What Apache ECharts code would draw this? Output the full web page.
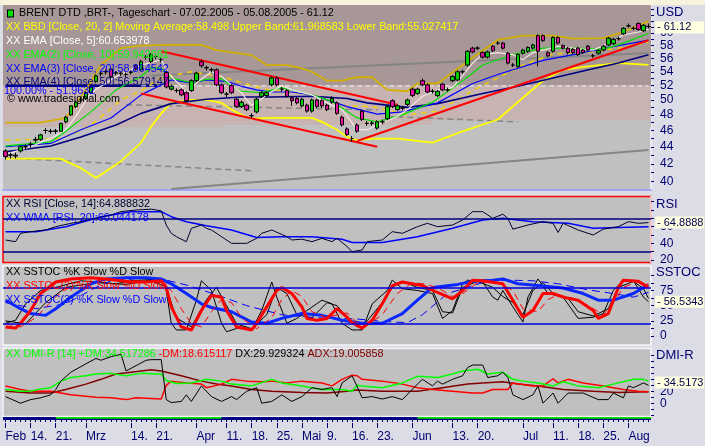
<!DOCTYPE html>
<html>
<head>
<meta charset="utf-8">
<script src="https://cdn.jsdelivr.net/npm/echarts@6/dist/echarts.min.js"></script>
<style>
  html, body { margin: 0; padding: 0; background: #dcdce6; }
  #main { width: 705px; height: 446px; }
  #topStrip { position: absolute; left: 0; top: 0; width: 705px; height: 5px; background: #f8f1dc; }
</style>
</head>
<body>
<div id="main"></div>
<div id="topStrip"></div>
<script type="text/javascript">
    // ---- price data ----
    var openP = [
        43.5, 43.0, 42.9, 43.5, 44.0, 44.3, 44.8, 44.9, 46.0, 45.9,
        45.9, 45.9, 47.1, 48.0, 49.1, 50.0, 50.2, 51.0, 52.6, 53.7,
        54.0, 54.4, 53.8, 53.7, 53.6, 53.9, 54.9, 54.3, 56.2, 55.5,
        56.3, 55.8, 53.9, 51.5, 51.3, 51.4, 51.0, 51.3, 52.7, 55.5,
        54.6, 54.3, 54.3, 52.1, 50.8, 52.0, 50.1, 49.1, 49.3, 47.9,
        48.4, 50.5, 50.6, 52.1, 53.1, 51.5, 51.3, 50.3, 50.2, 49.2,
        49.3, 48.5, 50.0, 49.9, 49.3, 49.7, 49.6, 47.7, 46.2, 45.0,
        46.7, 48.5, 46.9, 46.9, 46.3, 47.1, 47.5, 49.9, 48.7, 48.9,
        49.4, 51.5, 50.9, 52.7, 52.1, 51.2, 50.6, 52.2, 51.4, 52.7,
        52.8, 54.0, 55.0, 57.6, 57.6, 56.9, 56.2, 57.9, 58.4, 58.4,
        56.8, 55.0, 54.8, 56.8, 57.1, 57.6, 59.6, 59.6, 56.9, 57.1,
        59.3, 58.0, 57.6, 57.4, 57.6, 57.3, 57.9, 56.4, 56.8, 57.3,
        58.1, 58.3, 59.1, 59.9, 61.2, 60.8, 61.6, 60.4, 61.1
    ];
    var closeP = [
        42.85, 43.05, 43.0, 44.0, 44.0, 44.3, 44.9, 45.45, 46.0, 45.9,
        45.95, 46.9, 47.7, 49.2, 49.7, 50.05, 51.0, 51.8, 53.4, 53.8,
        54.0, 53.3, 53.85, 53.8, 53.6, 54.0, 54.4, 55.5, 56.2, 56.6,
        56.3, 55.8, 51.8, 51.9, 51.3, 50.7, 49.9, 52.7, 53.8, 54.9,
        54.6, 54.3, 52.1, 51.0, 50.8, 51.0, 49.1, 49.7, 48.7, 47.9,
        50.1, 51.0, 51.0, 53.1, 52.1, 51.5, 50.5, 49.9, 49.6, 50.1,
        48.5, 50.0, 49.1, 49.2, 48.7, 50.2, 48.2, 46.7, 45.5, 45.0,
        45.9, 47.4, 46.9, 46.95, 47.1, 47.1, 49.1, 49.1, 49.2, 48.9,
        50.0, 50.6, 51.5, 52.1, 51.1, 51.2, 51.2, 51.4, 51.4, 53.3,
        54.0, 54.0, 57.1, 57.0, 57.6, 56.2, 57.0, 57.2, 58.4, 57.6,
        55.3, 55.0, 56.6, 57.3, 57.7, 58.1, 57.1, 58.8, 56.4, 59.3,
        58.4, 57.6, 56.9, 56.9, 56.6, 56.9, 57.3, 56.4, 57.2, 57.9,
        59.2, 59.0, 59.1, 60.8, 61.2, 60.8, 60.6, 61.3, 61.12
    ];
    var lowP = [
        42.5, 42.6, 42.6, 43.3, 43.6, 43.9, 44.5, 44.7, 45.6, 45.6,
        45.6, 45.8, 46.9, 47.9, 48.9, 49.7, 50.0, 50.8, 52.4, 53.3,
        53.6, 53.0, 53.5, 53.4, 53.2, 53.6, 54.2, 54.1, 55.8, 55.3,
        55.9, 55.4, 51.6, 51.3, 51.0, 50.5, 49.7, 51.1, 52.5, 54.6,
        54.2, 53.9, 51.9, 50.8, 50.4, 50.8, 48.9, 48.9, 48.5, 47.5,
        48.2, 50.3, 50.4, 51.9, 51.9, 51.1, 50.3, 49.2, 49.4, 49.0,
        48.3, 48.3, 48.9, 48.9, 48.5, 49.5, 48.0, 46.5, 45.3, 44.6,
        45.7, 47.2, 46.6, 46.6, 46.1, 46.8, 47.3, 48.9, 48.5, 48.6,
        49.2, 50.4, 50.7, 51.9, 50.9, 50.9, 50.4, 51.2, 51.1, 52.5,
        52.6, 53.7, 54.8, 56.8, 57.3, 56.0, 56.0, 57.0, 58.1, 57.4,
        55.1, 54.7, 54.6, 56.6, 56.9, 57.4, 54.8, 58.6, 56.2, 56.9,
        58.2, 57.4, 56.6, 56.7, 56.4, 56.7, 57.1, 56.1, 56.6, 57.1,
        57.9, 58.1, 58.8, 59.7, 60.9, 60.5, 60.4, 60.2, 60.8
    ];
    var highP = [
        43.7, 43.3, 43.3, 44.1, 44.3, 44.6, 45.2, 45.6, 46.3, 46.2,
        46.2, 47.0, 47.9, 49.3, 49.9, 50.4, 51.2, 52.0, 53.6, 54.1,
        54.3, 54.6, 54.1, 54.0, 53.9, 54.2, 55.1, 55.8, 56.5, 56.8,
        56.6, 56.1, 54.2, 52.1, 51.6, 51.6, 51.2, 52.9, 54.0, 55.8,
        54.9, 54.6, 54.5, 52.3, 51.1, 52.2, 50.3, 49.9, 49.5, 48.2,
        50.3, 51.2, 51.2, 53.3, 53.3, 51.8, 51.5, 50.5, 50.4, 50.3,
        49.5, 50.2, 50.2, 50.1, 49.5, 50.5, 49.8, 47.9, 46.4, 45.3,
        46.9, 48.7, 47.2, 47.2, 47.3, 47.4, 49.3, 50.1, 49.4, 49.2,
        50.2, 51.7, 51.7, 53.0, 52.3, 51.5, 51.4, 52.4, 51.7, 53.5,
        54.2, 54.3, 57.3, 57.8, 57.9, 57.1, 57.2, 58.1, 58.7, 58.6,
        57.0, 55.3, 56.8, 57.5, 57.9, 58.3, 59.8, 59.8, 57.1, 59.5,
        59.5, 58.2, 57.8, 57.6, 57.8, 57.5, 58.1, 56.7, 57.4, 58.1,
        59.4, 59.2, 59.4, 61.0, 61.6, 61.1, 61.8, 61.5, 61.6
    ];

    // ---- price panel indicators, [day index, value] ----
    var emaFive = [[0,43.1],[5,44.0],[10,45.3],[12,46.1],[14,47.8],[17,51.0],[22,53.3],[27,55.0],[31,55.8],[32,54.3],[33,53.3],[35,51.9],[36,51.0],[37,51.4],[38,52.4],[41,54.0],[43,53.3],[45,52.1],[47,51.0],[48,50.0],[49,49.3],[50,49.6],[52,50.7],[55,52.0],[57,51.4],[61,50.7],[64,49.6],[67,48.7],[70,46.1],[72,46.1],[74,46.7],[78,47.8],[80,48.7],[83,50.5],[86,51.4],[89,51.7],[93,55.3],[95,56.6],[98,56.9],[101,56.6],[103,55.8],[105,56.9],[107,57.3],[110,57.9],[113,57.6],[117,57.3],[121,58.7],[123,59.7],[126,60.2],[128,60.65]];
    var emaTen = [[0,44.1],[9,44.6],[12,45.9],[17,48.4],[22,51.4],[27,53.3],[29,54.6],[31,54.5],[33,53.1],[37,52.4],[40,52.9],[43,53.0],[45,51.9],[47,51.2],[51,51.0],[55,51.7],[58,51.2],[61,50.7],[65,49.8],[70,47.6],[74,47.1],[79,48.0],[85,49.7],[91,52.7],[95,55.0],[101,56.6],[107,57.6],[113,57.6],[119,57.4],[123,58.4],[128,59.94]];
    var emaTwenty = [[0,44.0],[9,44.4],[15,46.1],[21,47.6],[27,50.7],[33,52.8],[37,52.4],[40,52.8],[44,52.6],[47,51.9],[50,51.4],[53,51.1],[57,51.1],[61,50.7],[68,49.1],[74,48.1],[79,48.4],[86,49.6],[93,52.3],[98,53.6],[107,55.7],[113,56.6],[120,57.7],[128,58.86]];
    var emaFifty = [[0,43.4],[9,44.1],[15,45.2],[22,46.7],[27,48.2],[33,49.5],[40,50.1],[47,50.4],[53,50.4],[61,50.5],[68,50.2],[72,49.6],[80,49.0],[86,49.5],[95,50.9],[102,51.9],[109,53.1],[115,54.1],[122,55.3],[128,56.58]];
    var bbUpper = [[0,47.0],[7,47.0],[12,47.6],[16,51.4],[19,55.0],[23,57.6],[27,58.0],[32,58.1],[39,58.1],[42,57.3],[49,56.5],[52,55.0],[56,55.0],[59,54.5],[61,54.0],[64,52.7],[67,52.7],[70,53.2],[73,53.2],[76,51.4],[80,51.2],[82,52.3],[86,52.3],[89,53.9],[93,56.1],[98,58.9],[103,59.6],[109,59.6],[113,59.1],[119,59.2],[123,60.2],[128,61.97]];
    var bbLower = [[0,42.6],[11,42.6],[15,41.5],[18,40.4],[23,42.3],[27,44.5],[29,46.5],[31,48.2],[33,49.6],[37,50.0],[40,50.0],[43,49.6],[45,48.7],[47,48.0],[49,47.5],[53,47.6],[58,47.6],[61,47.6],[63,47.1],[66,46.1],[68,45.2],[70,44.8],[73,45.0],[78,45.0],[85,44.5],[91,45.9],[98,47.4],[103,50.3],[107,52.7],[111,54.3],[116,54.8],[122,55.3],[128,55.03]];
    var bbMiddle = [[0,44.8],[11,45.0],[15,46.0],[18,47.2],[23,50.0],[27,51.3],[31,53.1],[37,54.0],[43,53.3],[49,52.0],[53,51.3],[61,50.8],[67,49.2],[73,49.1],[80,48.0],[86,48.5],[93,51.3],[98,53.1],[103,55.0],[109,56.7],[116,57.0],[122,57.6],[128,58.5]];

    // drawn trend lines and levels: [[day, price], [day, price]]
    var redTrendLines = [[[31,57.1],[78,49.35]], [[27,50.9],[74,44.0]], [[70,44.7],[128,58.85]]];
    var grayTrendLines = [[[29,53.46],[128,56.85]], [[33,39.2],[128,43.6]]];
    var grayDashedLines = [[[0,42.69],[49,41.2]], [[24,49.34],[74,48.67]], [[76,47.8],[102,47.1]]];
    var fibLevel = 51.9632;
    var fibNavy = [[0,fibLevel],[31,fibLevel]];
    var fibWhite = [[27,fibLevel],[128,fibLevel]];
    var zoneSteps = [[0,46.4],[43,46.7],[85,47.3]];

    // ---- RSI ----
    var rsiLine = [[0,44],[2,42],[3,52],[5,54],[8,56],[10,60],[13,64],[15,66],[18,70],[21,74],[23,78],[26,80],[29,81],[31,79],[32,62],[33,52],[34,48],[36,42],[37,58],[39,62],[40,58],[41,56],[43,48],[45,40],[48,40],[50,46],[51,52],[53,56],[56,48],[57,44],[59,45],[61,42],[63,46],[65,42],[66,46],[68,36],[69,30],[71,32],[72,42],[75,44],[77,54],[79,52],[82,60],[84,64],[86,60],[89,62],[91,68],[93,78],[95,78],[97,70],[99,75],[100,70],[101,57],[104,62],[107,66],[109,64],[110,53],[111,64],[114,56],[117,50],[119,57],[122,60],[124,66],[126,64],[128,64.89]];
    var rsiWma = [[0,54],[6,54],[12,60],[19,72],[25,78],[31,78],[33,72],[36,66],[40,61],[45,56],[50,47],[55,48],[61,48],[67,45],[69,41],[75,41],[82,48],[89,58],[95,68],[99,70],[105,66],[112,64],[117,58],[122,59],[128,60.04]];
    var rsiLevels = [70, 30];

    // ---- slow stochastics ----
    var stochK1 = [[0,21],[2,26],[4,53],[7,75],[10,80],[15,91],[22,86],[25,91],[31,94],[32,75],[33,21],[34,10],[36,10],[38,59],[39,91],[41,75],[43,21],[44,7],[47,15],[49,10],[51,42],[53,89],[54,64],[56,21],[58,29],[60,42],[63,59],[65,53],[67,21],[69,10],[71,10],[73,53],[76,75],[77,92],[79,78],[82,75],[85,70],[87,29],[89,42],[91,86],[92,92],[95,89],[97,64],[98,59],[99,75],[101,48],[103,23],[104,64],[106,94],[108,70],[111,64],[114,29],[117,31],[119,37],[121,75],[123,92],[125,91],[127,64],[128,56.5]];
    var stochD1 = [[0,25],[4,20],[8,55],[12,80],[18,88],[24,85],[29,92],[32,80],[34,30],[37,15],[40,60],[42,80],[44,50],[46,20],[49,12],[52,35],[54,80],[56,70],[58,35],[61,30],[64,55],[66,50],[68,30],[70,15],[72,25],[75,55],[77,80],[79,90],[82,80],[85,75],[87,40],[89,38],[91,80],[94,90],[97,80],[99,65],[101,55],[103,35],[105,75],[107,88],[109,70],[112,62],[114,40],[117,33],[120,45],[122,80],[125,90],[127,78],[128,62]];
    var stochK2 = [[0,15],[2,13],[3,21],[5,42],[7,70],[10,89],[13,94],[17,96],[20,94],[23,91],[25,89],[28,89],[31,91],[32,80],[33,48],[35,15],[37,10],[39,42],[41,67],[43,64],[44,42],[46,15],[49,10],[50,21],[52,48],[54,75],[55,80],[57,70],[59,48],[60,29],[62,26],[64,29],[66,45],[68,31],[69,22],[71,13],[73,26],[75,53],[77,83],[79,89],[83,83],[86,72],[89,61],[91,75],[93,92],[95,91],[99,86],[101,59],[103,31],[105,42],[107,70],[109,70],[111,64],[114,59],[117,42],[118,29],[120,37],[122,80],[123,92],[126,90],[128,80]];
    var stochD2 = [[0,20],[3,15],[6,30],[10,65],[14,88],[20,93],[28,90],[31,88],[33,75],[35,45],[37,20],[39,15],[41,40],[43,60],[45,55],[47,30],[50,12],[53,30],[55,60],[57,75],[59,65],[61,40],[64,30],[66,35],[68,38],[70,22],[72,18],[75,35],[78,70],[81,88],[84,85],[87,75],[89,65],[91,70],[94,88],[98,88],[101,75],[103,45],[106,40],[108,60],[110,68],[113,62],[116,50],[119,35],[121,55],[123,80],[126,90],[128,85]];
    var stochK3 = [[0,59],[3,45],[5,37],[8,34],[10,45],[13,64],[17,86],[20,94],[24,96],[28,96],[31,94],[33,86],[36,70],[39,53],[41,47],[45,40],[49,23],[52,21],[55,29],[59,37],[63,34],[67,26],[71,21],[75,21],[79,37],[82,59],[85,80],[90,85],[93,90],[97,92],[99,94],[102,86],[106,83],[111,79],[115,70],[118,59],[121,59],[125,70],[127,80],[128,83]];
    var stochD3 = [[0,55],[6,45],[12,53],[18,80],[21,91],[27,95],[31,94],[36,84],[42,68],[48,50],[55,35],[62,30],[70,28],[75,24],[80,22],[83,35],[88,70],[95,88],[100,92],[105,91],[110,86],[116,76],[121,70],[125,64],[128,72]];
    var stochLevels = [80, 20];

    // ---- DMI ----
    var dmiPlus = [[0,23],[3,20],[5,20],[7,24],[9,26],[11,37],[13,43],[16,46],[18,49],[21,50],[24,46],[27,50],[30,49],[31,49],[32,38],[34,33],[37,34],[40,40],[43,37],[45,32],[49,29],[53,40],[55,34],[59,29],[63,23],[67,23],[69,20],[70,30],[71,29],[75,26],[79,34],[82,45],[86,43],[89,49],[91,54],[94,57],[96,49],[99,52],[101,40],[103,37],[106,34],[109,29],[111,36],[114,29],[118,26],[121,32],[125,40],[127,40],[128,37]];
    var dmiMinus = [[0,29],[3,23],[5,20],[9,20],[11,17],[13,14],[18,10],[21,9],[24,6],[26,9],[31,7],[32,30],[33,37],[36,34],[39,32],[40,26],[43,32],[45,40],[48,37],[51,36],[53,37],[56,34],[59,37],[63,34],[65,29],[67,40],[69,47],[70,46],[71,40],[75,37],[79,32],[82,26],[85,23],[89,20],[93,17],[95,17],[97,23],[100,23],[101,34],[105,29],[107,29],[109,41],[110,34],[112,40],[115,34],[119,29],[123,23],[126,20],[128,19]];
    var dmiDx = [[0,11],[3,0],[5,6],[7,9],[9,14],[10,23],[11,37],[13,52],[16,66],[18,75],[19,72],[21,78],[23,82],[24,54],[26,63],[28,72],[29,73],[31,73],[32,6],[33,1],[35,3],[36,14],[37,3],[39,29],[41,11],[43,3],[45,11],[46,6],[48,20],[50,26],[51,0],[53,3],[55,14],[57,3],[59,11],[61,26],[63,23],[65,26],[66,11],[67,34],[69,46],[70,28],[71,9],[73,11],[75,7],[77,11],[79,6],[82,32],[83,40],[85,29],[86,37],[87,32],[89,40],[91,46],[92,60],[93,64],[95,64],[96,43],[98,46],[99,52],[100,43],[101,14],[103,6],[105,14],[106,29],[107,0],[109,17],[110,0],[112,17],[115,17],[118,6],[120,6],[121,17],[123,9],[124,29],[125,26],[127,34],[128,30]];
    var dmiAdx = [[0,20],[5,17],[9,17],[12,23],[16,32],[19,40],[22,49],[25,52],[29,56],[31,54],[35,46],[39,37],[42,32],[45,29],[49,23],[53,20],[59,18],[64,17],[68,20],[70,22],[75,20],[82,20],[87,26],[92,32],[95,34],[99,36],[102,32],[106,29],[111,23],[117,20],[122,18],[128,19]];
    var stripGreen = [[10,43],[82,128]];

    // ---- axis labels / last values ----
    var priceLabels = [40, 42, 44, 46, 48, 50, 52, 54, 56, 58, 60];
    var rsiLabels = [20, 40, 60];
    var stochLabels = [0, 25, 50, 75];
    var dmiLabels = [0, 20];
    var lastClose = 61.12, rsiLast = 64.8888, stochLast = 56.5343, dmiLast = 34.5173;
    var xLabels = {
        '2005-02-07': 'Feb', '2005-02-14': '14.', '2005-02-21': '21.', '2005-03-01': 'Mrz',
        '2005-03-14': '14.', '2005-03-21': '21.', '2005-04-01': 'Apr', '2005-04-11': '11.',
        '2005-04-18': '18.', '2005-04-25': '25.', '2005-05-02': 'Mai', '2005-05-09': '9.',
        '2005-05-16': '16.', '2005-05-23': '23.', '2005-06-01': 'Jun', '2005-06-13': '13.',
        '2005-06-20': '20.', '2005-07-01': 'Jul', '2005-07-11': '11.', '2005-07-18': '18.',
        '2005-07-25': '25.', '2005-08-01': 'Aug'
    };

    // trading days 07.02.2005 - 05.08.2005 (Good Friday closed)
    var holidays = ['2005-03-25'];
    var dates = [];
    for (var d = new Date(Date.UTC(2005, 1, 7)); d <= new Date(Date.UTC(2005, 7, 5)); d.setUTCDate(d.getUTCDate() + 1)) {
        var wd = d.getUTCDay();
        var s = d.toISOString().slice(0, 10);
        if (wd !== 0 && wd !== 6 && holidays.indexOf(s) < 0) dates.push(s);
    }

    var L = Math.log;
    var priceMin = 39.1, priceMax = 64.8;
    var font = "'Liberation Sans', Arial, sans-serif";
    var navy = '#000070';
    var legendSize = 10.8;

    function lnPts(pts) {
        return pts.map(function (p) { return [p[0], L(p[1])]; });
    }
    function line(pts, grid, color, width, type, z) {
        return {
            type: 'line', xAxisIndex: grid, yAxisIndex: grid, data: pts,
            symbol: 'none', silent: true, animation: false,
            lineStyle: { color: color, width: width, type: type || 'solid' },
            z: z || 3
        };
    }
    // transparent full-width line whose end label is the yellow last-value box
    function lastValueMark(value, text) {
        return {
            silent: true, symbol: 'none', animation: false,
            lineStyle: { color: 'rgba(0,0,0,0)', width: 0 },
            label: {
                show: true, position: 'end', distance: 4, formatter: text,
                backgroundColor: '#ffffe1', color: '#000050', padding: [1, 0, 0, 2],
                width: 47, overflow: 'none', align: 'left',
                fontSize: 11, lineHeight: 11, fontFamily: font
            },
            data: [{ yAxis: value }]
        };
    }
    function xAx(grid, show) {
        return { gridIndex: grid, type: 'category', data: dates, show: show, boundaryGap: true };
    }
    function yAx(grid, min, max, labels, ticks, transform) {
        var tf = transform || function (v) { return v; };
        return {
            gridIndex: grid, type: 'value', position: 'right', min: min, max: max,
            splitLine: { show: false },
            axisLine: { show: true, lineStyle: { color: '#f4f4f8', width: 1.5 } },
            axisTick: { show: true, customValues: ticks, length: 3, lineStyle: { color: navy } },
            axisLabel: {
                customValues: labels.map(tf), showMinLabel: true, hideOverlap: false,
                margin: 9, color: navy, fontSize: 12, fontFamily: font,
                formatter: function (v) { return String(Math.round(transform ? Math.exp(v) : v)); }
            }
        };
    }
    function txt(text, left, top, color, size, rich) {
        return {
            text: text, left: left, top: top, padding: 0,
            textStyle: { fontSize: size || legendSize, fontWeight: 'normal', color: color, fontFamily: font, rich: rich }
        };
    }

    var priceTicks = [], rsiTicks = [], stochTicks = [], dmiTicks = [];
    for (var t = 39; t <= 64; t++) priceTicks.push(L(t));
    for (var r = 20; r <= 90; r += 10) rsiTicks.push(r);
    for (var q = 0; q <= 100; q += 12.5) stochTicks.push(q);
    for (var m = -20; m <= 80; m += 10) dmiTicks.push(m);

    var candleData = dates.map(function (_, i) {
        return [L(openP[i]), L(closeP[i]), L(lowP[i]), L(highP[i])];
    });

    // price panel zones
    var zones = [
        [{ yAxis: L(fibLevel), itemStyle: { color: '#a79797' } }, { yAxis: L(priceMax) }],
        [{ yAxis: L(zoneSteps[0][1]), itemStyle: { color: '#c8b3b3' } }, { yAxis: L(fibLevel) }]
    ];
    for (var z = 1; z < zoneSteps.length; z++) {
        zones.push([{ xAxis: zoneSteps[z][0], yAxis: L(zoneSteps[0][1]), itemStyle: { color: '#c0c0c0' } },
                    { yAxis: L(zoneSteps[z][1]) }]);
    }
    var stripAreas = stripGreen.map(function (g) {
        var end = g[1] >= dates.length - 1 ? { yAxis: 1 } : { xAxis: g[1], yAxis: 1 };
        return [{ xAxis: g[0], yAxis: 0.45, itemStyle: { color: '#00e000' } }, end];
    });

    var series = [];
    series.push({
        type: 'line', xAxisIndex: 0, yAxisIndex: 0, data: [[0, L(50)]], symbol: 'none',
        lineStyle: { opacity: 0 }, silent: true, z: 1,
        markArea: { silent: true, data: zones }
    });
    series.push({
        type: 'line', xAxisIndex: 4, yAxisIndex: 4, data: [[0, 0.2]], symbol: 'none',
        lineStyle: { opacity: 0 }, silent: true, z: 1,
        markArea: { silent: true, data: stripAreas }
    });
    grayTrendLines.forEach(function (g) { series.push(line(lnPts(g), 0, '#858585', 2, 'solid', 2)); });
    grayDashedLines.forEach(function (g) { series.push(line(lnPts(g), 0, '#858585', 1.5, [6, 4], 2)); });
    series.push(line(lnPts(fibNavy), 0, '#000080', 2.5, 'solid', 2));
    series.push(line(lnPts(fibWhite), 0, '#f2f2f2', 1, [5, 3], 2));
    series.push(line(lnPts(bbUpper), 0, '#d2b000', 1.8));
    series.push(line(lnPts(bbLower), 0, '#ffff00', 1.8));
    series.push(line(lnPts(bbMiddle), 0, '#f0d000', 1.5, [5, 5]));
    series.push(line(lnPts(emaFifty), 0, '#000080', 1.6));
    series.push(line(lnPts(emaTwenty), 0, '#0000ff', 1.2));
    series.push(line(lnPts(emaTen), 0, '#00e000', 1.2));
    series.push(line(lnPts(emaFive), 0, '#f5e6e6', 1.2));
    redTrendLines.forEach(function (g) { series.push(line(lnPts(g), 0, '#ff0000', 2, 'solid', 4)); });
    series.push({
        type: 'candlestick', xAxisIndex: 0, yAxisIndex: 0, data: candleData, barWidth: 4, z: 5,
        itemStyle: { color: '#00d000', color0: '#e0109c', borderColor: '#000000', borderColor0: '#000000', borderColorDoji: '#000000', borderWidth: 1 },
        markLine: lastValueMark(L(lastClose), '- ' + lastClose.toFixed(2))
    });

    var rsiSeries = line(rsiLine, 1, '#000030', 1);
    rsiSeries.markLine = {
        silent: true, symbol: 'none', label: { show: false },
        lineStyle: { color: '#000080', width: 1.5, type: 'solid' },
        data: rsiLevels.map(function (v) { return { yAxis: v }; })
    };
    var wma = line(rsiWma, 1, '#0000ff', 1.5);
    wma.markLine = lastValueMark(rsiLast, '- ' + rsiLast.toFixed(4));
    series.push(wma);
    series.push(rsiSeries);

    var k3 = line(stochK3, 2, '#0a28ff', 3);
    k3.markLine = {
        silent: true, symbol: 'none', label: { show: false },
        lineStyle: { color: '#0000e0', width: 1.5, type: 'solid' },
        data: stochLevels.map(function (v) { return { yAxis: v }; })
    };
    var k1 = line(stochK1, 2, '#000000', 1);
    k1.markLine = lastValueMark(stochLast, '- ' + stochLast.toFixed(4));
    series.push(line(stochD1, 2, '#000000', 1));
    series.push(k1);
    series.push(line(stochD3, 2, '#0000ff', 1, [8, 5]));
    series.push(k3);
    series.push(line(stochD2, 2, '#ff0000', 1, [7, 5]));
    series.push(line(stochK2, 2, '#ff0000', 3));

    var plus = line(dmiPlus, 3, '#00ff00', 1.5);
    plus.markLine = lastValueMark(dmiLast, '- ' + dmiLast.toFixed(4));
    series.push(line(dmiAdx, 3, '#800000', 1.5));
    series.push(line(dmiMinus, 3, '#ff0000', 1.5));
    series.push(plus);
    series.push(line(dmiDx, 3, '#000000', 1));

    var gridBorder = { show: true, backgroundColor: '#c0c0c0', borderColor: '#f4f4f8', borderWidth: 1.5, outerBoundsMode: 'none' };
    var option = {
        animation: false,
        backgroundColor: '#dcdce6',
        title: [
            txt('{sq|}  BRENT DTD ,BRT-, Tageschart - 07.02.2005 - 05.08.2005 - 61.12', 8, 8, '#000000', legendSize,
                { sq: { width: 5, height: 6, backgroundColor: '#00e000', borderColor: '#000000', borderWidth: 1 } }),
            txt('XX BBD [Close, 20, 2] Moving Average:58.498 Upper Band:61.968583 Lower Band:55.027417', 6, 22, '#ffff00'),
            txt('XX EMA [Close, 5]:60.653978', 6, 35.5, '#ffffff'),
            txt('XX EMA(2) [Close, 10]:59.942661', 6, 49.5, '#00ff00'),
            txt('XX EMA(3) [Close, 20]:58.864542', 6, 63.5, '#0000ff'),
            txt('XX EMA(4) [Close, 50]:56.579147', 6, 76.5, '#000080'),
            txt('100.00% - 51.9632', 4, 85.5, '#0000ff'),
            txt('\u00a9 www.tradesignal.com', 7, 93.5, '#000000'),
            txt('XX RSI [Close, 14]:64.888832', 6, 198.5, '#000030'),
            txt('XX WMA [RSI, 20]:60.044178', 6, 212.5, '#0000ff'),
            txt('XX SSTOC %K Slow %D Slow', 6, 266.5, '#000000'),
            txt('XX SSTOC(2) %K Slow %D Slow', 6, 280.5, '#ff0000'),
            txt('XX SSTOC(3) %K Slow %D Slow', 6, 295, '#0000ff'),
            txt('{g|XX DMI-R [14] +DM:34.517286} {r|-DM:18.615117} {k|DX:29.929324} {m|ADX:19.005858}', 6, 348.5, '#000000', legendSize, {
                g: { color: '#00ff00', fontSize: legendSize, fontFamily: font },
                r: { color: '#ff0000', fontSize: legendSize, fontFamily: font },
                k: { color: '#000000', fontSize: legendSize, fontFamily: font },
                m: { color: '#800000', fontSize: legendSize, fontFamily: font }
            }),
            txt('USD', 656, 6, navy, 13),
            txt('RSI', 656, 198, navy, 13),
            txt('SSTOC', 656, 266, navy, 13),
            txt('DMI-R', 656, 349, navy, 13)
        ],
        grid: [
            { left: 3, top: 5, width: 648, height: 185, show: true, backgroundColor: '#c0c0c0', borderWidth: 0, outerBoundsMode: 'none' },
            { left: 3, top: 196.5, width: 648, height: 66, show: true, backgroundColor: '#c0c0c0', borderColor: '#ff0000', borderWidth: 1.5, outerBoundsMode: 'none' },
            Object.assign({ left: 3, top: 266, width: 648, height: 79 }, gridBorder),
            Object.assign({ left: 3, top: 348.5, width: 648, height: 68 }, gridBorder),
            { left: 3, top: 417, width: 648, height: 3, show: true, backgroundColor: '#000080', borderWidth: 0, outerBoundsMode: 'none' }
        ],
        xAxis: [
            Object.assign(xAx(0, true), {
                axisLine: { show: true, lineStyle: { color: '#a4a4f4', width: 2 } },
                axisTick: { show: false }, axisLabel: { show: false }
            }),
            xAx(1, false),
            xAx(2, false),
            xAx(3, false),
            Object.assign(xAx(4, true), {
                position: 'bottom', offset: 3,
                axisLine: { show: false },
                axisTick: { show: true, interval: 0, alignWithLabel: true, length: 2, lineStyle: { color: navy } },
                axisLabel: {
                    interval: 0, align: 'left', margin: 8, color: navy, fontSize: 12, fontFamily: font, hideOverlap: false,
                    formatter: function (v) { return xLabels[v] || ''; }
                }
            }),
            Object.assign(xAx(4, true), {
                position: 'bottom', offset: 3,
                axisLine: { show: false },
                axisTick: {
                    show: true, alignWithLabel: true, length: 5, lineStyle: { color: navy },
                    interval: function (i, v) { return !!xLabels[v]; }
                },
                axisLabel: { show: false }
            })
        ],
        yAxis: [
            yAx(0, L(priceMin), L(priceMax), priceLabels, priceTicks, L),
            yAx(1, 17.0, 96.2, rsiLabels, rsiTicks),
            yAx(2, -14.8, 115.3, stochLabels, stochTicks),
            yAx(3, -22.3, 91.7, dmiLabels, dmiTicks),
            { gridIndex: 4, type: 'value', min: 0, max: 1, show: false }
        ],
        series: series
    };

    var myChart = echarts.init(document.getElementById('main'));
    myChart.setOption(option);
</script>
</body>
</html>
